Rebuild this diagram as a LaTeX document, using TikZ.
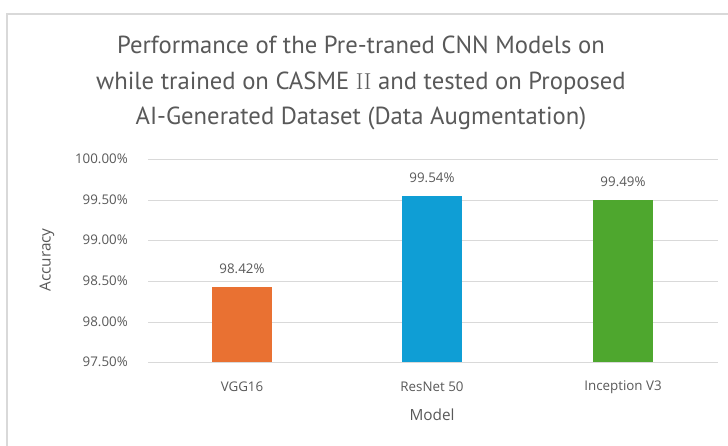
\documentclass[tikz,border=0pt]{standalone}
\usepackage[no-math]{fontspec}
\setmainfont{Open Sans}
\newfontfamily\titlefont{PT Sans}
\usetikzlibrary{positioning}
\definecolor{gridgray}{HTML}{D9D9D9}
\definecolor{txtgray}{HTML}{595959}
\definecolor{barorange}{HTML}{E97132}
\definecolor{barblue}{HTML}{0F9ED5}
\definecolor{bargreen}{HTML}{4EA72E}

\begin{document}
\begin{tikzpicture}[x=0.75pt,y=-0.75pt]
  \tikzset{ticklabel/.style = {anchor=east,text=txtgray,inner sep=0pt,font=\fontsize{10}{11}\selectfont}}
  \tikzset{valuelabel/.style = {text=txtgray,inner sep=0pt,font=\fontsize{10}{11}\selectfont}}
  \tikzset{catlabel/.style = {text=txtgray,inner sep=0pt,font=\fontsize{10}{11}\selectfont}}
  \tikzset{axislabel/.style = {text=txtgray,inner sep=0pt,font=\fontsize{11.5}{13}\selectfont}}
  \tikzset{gridline/.style = {draw=gridgray,line width=0.75pt}}

  \useasboundingbox (0,0) rectangle (728,446);
  \fill[white] (0,0) rectangle (728,446);
  \draw[gridgray,line width=1pt] (7,446) -- (7,14) -- (728,14);

  \node[text=txtgray,align=center,font=\titlefont\fontsize{18.5}{26.5}\selectfont] (title) at (361,83)
    {Performance of the Pre-traned CNN Models on\\
     while trained on CASME $\mathrm{II}$ and tested on Proposed\\
     AI-Generated Dataset (Data Augmentation)};

  \foreach \v/\y [count=\i] in {97.50/362, 98.00/322, 98.50/281, 99.00/240, 99.50/200, 100.00/159}
  {
    \draw[gridline] (148,\y) -- (718,\y);
    \node[ticklabel] (tick\i) at (128,\y) {\v\%};
  }

  \foreach \name/\x/\val/\col in {vgg/242/98.42/barorange, res/432/99.54/barblue, inc/623/99.49/bargreen}
  {
    \pgfmathsetmacro\top{362-(\val-97.5)*81.2}
    \fill[\col] (\x-30,362) rectangle (\x+30,\top);
    \node[valuelabel] (\name val) at (\x,\top-19) {\val\%};
  }

  \node[catlabel] (vggcat) at (242,387) {VGG16};
  \node[catlabel] (rescat) at (432,387) {ResNet 50};
  \node[catlabel] (inccat) at (623,387) {Inception V3};

  \node[axislabel] (xlab) at (432,415) {Model};
  \node[axislabel,rotate=90] (ylab) at (47,260) {Accuracy};
\end{tikzpicture}
\end{document}
